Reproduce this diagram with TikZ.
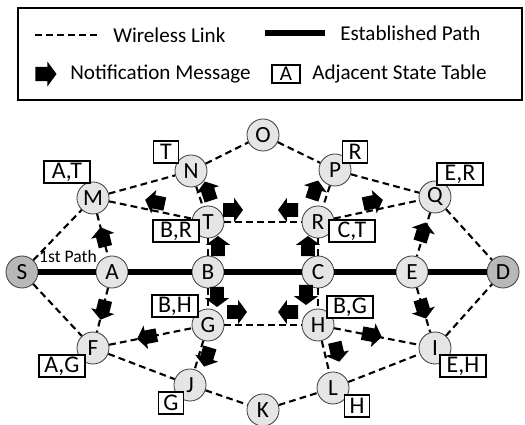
\documentclass[tikz,border=0pt]{standalone}
\usepackage{fontspec}
\setmainfont{Carlito}

\definecolor{nodogris}{gray}{0.9}
\definecolor{extremogris}{gray}{0.72}

\begin{document}
\begin{tikzpicture}[x=0.025cm, y=-0.025cm,
  nodo/.style={draw=black!75, line width=0.6pt, circle, fill=nodogris, minimum size=0.8cm, inner sep=0pt, font=\fontsize{16.5}{18}\selectfont},
  extremo/.style={nodo, fill=extremogris},
  tabla/.style={draw, fill=white, line width=0.9pt, inner sep=0pt, minimum height=0.55cm, minimum width=1.15cm, font=\fontsize{17}{19}\selectfont},
  tablita/.style={tabla, minimum width=0.62cm},
  enlace/.style={line width=1.5pt, dash pattern=on 4.8pt off 3pt},
  ruta/.style={line width=4pt},
  mensaje/.pic={\fill (-0.25cm,-0.17cm) -- (0.03cm,-0.17cm) -- (0.03cm,-0.3cm) -- (0.25cm,0cm)
      -- (0.03cm,0.3cm) -- (0.03cm,0.17cm) -- (-0.25cm,0.17cm) -- cycle;},
  texto/.style={anchor=west, inner sep=0pt, font=\fontsize{15}{17}\selectfont}]
\useasboundingbox (0,0) rectangle (525,425);

% Leyenda
\draw[line width=0.9pt] (18,8) rectangle (522,100);
\coordinate (l1) at (35,35);
\coordinate (l2) at (97,35);
\draw[enlace] (l1) -- (l2);
\node[texto] (tw) at (113,35) {Wireless Link};
\coordinate (l3) at (265,33);
\coordinate (l4) at (325,33);
\draw[ruta] (l3) -- (l4);
\node[texto] (te) at (340,33) {Established Path};
\pic[scale=1.05] (lm) at (46,74) {mensaje};
\node[texto] (tn) at (70,74) {Notification Message};
\node[tabla, minimum width=0.7cm, minimum height=0.45cm, font=\fontsize{15}{17}\selectfont] (la) at (286,74) {A};
\node[texto] (ta) at (312,74) {Adjacent State Table};

% Nodos de la red
\node[extremo] (S) at (22,272) {S};
\node[nodo] (A) at (112,272) {A};
\node[nodo] (B) at (208,272) {B};
\node[nodo] (C) at (318,272) {C};
\node[nodo] (E) at (412,272) {E};
\node[extremo] (D) at (503,272) {D};
\node[nodo] (M) at (93,198) {M};
\node[nodo] (N) at (191,171) {N};
\node[nodo] (O) at (263,135) {O};
\node[nodo] (P) at (335,170) {P};
\node[nodo] (Q) at (435,197) {Q};
\node[nodo] (T) at (208,222) {T};
\node[nodo] (R) at (318,222) {R};
\node[nodo] (G) at (208,325) {G};
\node[nodo] (H) at (318,325) {H};
\node[nodo] (F) at (93,348) {F};
\node[nodo] (I) at (435,348) {I};
\node[nodo] (J) at (190,385) {J};
\node[nodo] (L) at (333,388) {L};
\node[nodo] (K) at (263,410) {K};

% Enlaces inalambricos
\draw[enlace] (S) -- (M);
\draw[enlace] (S) -- (F);
\draw[enlace] (M) -- (N);
\draw[enlace] (M) -- (A);
\draw[enlace] (M) -- (T);
\draw[enlace] (N) -- (O);
\draw[enlace] (O) -- (P);
\draw[enlace] (N) -- (T);
\draw[enlace] (T) -- (R);
\draw[enlace] (P) -- (R);
\draw[enlace] (P) -- (Q);
\draw[enlace] (R) -- (Q);
\draw[enlace] (Q) -- (E);
\draw[enlace] (Q) -- (D);
\draw[enlace] (T) -- (B);
\draw[enlace] (R) -- (C);
\draw[enlace] (B) -- (G);
\draw[enlace] (C) -- (H);
\draw[enlace] (A) -- (F);
\draw[enlace] (F) -- (G);
\draw[enlace] (F) -- (J);
\draw[enlace] (G) -- (J);
\draw[enlace] (G) -- (H);
\draw[enlace] (H) -- (L);
\draw[enlace] (H) -- (I);
\draw[enlace] (E) -- (I);
\draw[enlace] (I) -- (D);
\draw[enlace] (J) -- (K);
\draw[enlace] (K) -- (L);
\draw[enlace] (L) -- (I);

% Ruta establecida
\draw[ruta] (S) -- (A);
\draw[ruta] (A) -- (B);
\draw[ruta] (B) -- (C);
\draw[ruta] (C) -- (E);
\draw[ruta] (E) -- (D);
\node[inner sep=0pt, font=\fontsize{12.5}{14}\selectfont] (p1) at (68,256) {1st Path};

% Mensajes de notificacion
\pic[rotate=104] (mAM) at (103,237) {mensaje};
\pic[rotate=168] (mTM) at (155,202) {mensaje};
\pic[rotate=108] (mTN) at (208,191) {mensaje};
\pic[rotate=0] (mTR) at (233,210) {mensaje};
\pic[rotate=180] (mRT) at (288,210) {mensaje};
\pic[rotate=90] (mBT) at (218,246) {mensaje};
\pic[rotate=90] (mCR) at (308,246) {mensaje};
\pic[rotate=72] (mRP) at (315,190) {mensaje};
\pic[rotate=12] (mRQ) at (373,202) {mensaje};
\pic[rotate=73] (mEQ) at (423,232) {mensaje};
\pic[rotate=-104] (mAF) at (103,310) {mensaje};
\pic[rotate=191] (mGF) at (147,337) {mensaje};
\pic[rotate=-90] (mBG) at (217,297) {mensaje};
\pic[rotate=-90] (mCH) at (306,295) {mensaje};
\pic[rotate=0] (mGH) at (237,312) {mensaje};
\pic[rotate=180] (mHG) at (288,312) {mensaje};
\pic[rotate=-107] (mGJ) at (207,357) {mensaje};
\pic[rotate=-77] (mHL) at (337,352) {mensaje};
\pic[rotate=-11] (mHI) at (372,335) {mensaje};
\pic[rotate=-73] (mEI) at (423,309) {mensaje};

% Tablas de estado adyacente
\node[tabla] (tM) at (67,172) {A,T};
\node[tablita] (tN) at (166,152) {T};
\node[tabla] (tT) at (176,231) {B,R};
\node[tablita] (tP) at (355,152) {R};
\node[tabla] (tQ) at (460,174) {E,R};
\node[tabla] (tR) at (352,231) {C,T};
\node[tabla] (tG) at (175,306) {B,H};
\node[tabla] (tF) at (62,366) {A,G};
\node[tablita] (tJ) at (171,403) {G};
\node[tabla] (tH) at (350,307) {B,G};
\node[tabla] (tI) at (463,366) {E,H};
\node[tablita] (tL) at (357,406) {H};
\end{tikzpicture}
\end{document}
